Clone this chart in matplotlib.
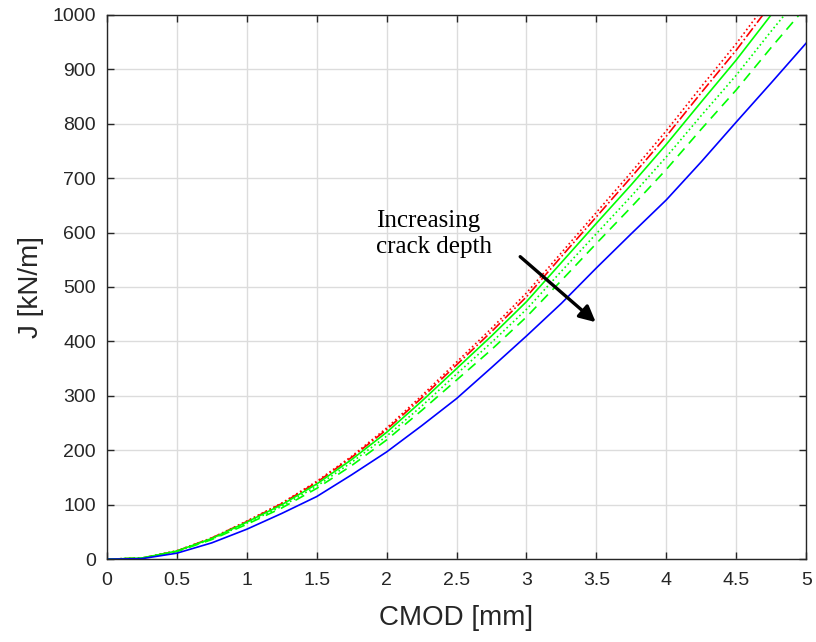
import matplotlib
matplotlib.use("Agg")
import matplotlib.pyplot as plt

cmod = [0, 0.25, 0.5, 0.75, 1, 1.25, 1.5, 1.75, 2, 2.25, 2.5, 2.75, 3, 3.25,
        3.5, 3.75, 4, 4.25, 4.5, 4.75, 5]

red_dotted = [0, 2, 15.5, 39, 70, 103, 143, 189, 241, 300, 362, 424, 489, 563,
              637, 711, 787, 868, 947, 1033, 1116]
red_dashdot = [0, 2, 15, 39, 69, 102, 141, 187, 238, 296, 357, 418, 482, 556,
               629, 702, 777, 857, 935, 1020, 1102]
green_solid = [0, 2, 15, 38, 68, 100, 138, 183, 233, 290, 350, 410, 473, 545,
               617, 688, 762, 840, 917, 1000, 1080]
green_dotted = [0, 2, 14.5, 37, 66, 97, 134, 178, 226, 281, 340, 398, 459, 529,
                598, 667, 739, 815, 889, 970, 1048]
green_dashed = [0, 2, 14, 36, 64, 94, 130, 172, 219, 273, 329, 385, 445, 512,
                580, 647, 716, 790, 862, 940, 1015]
blue_solid = [0, 1, 11, 30, 55, 84, 115, 155, 197, 245, 295, 352, 410, 470,
              535, 598, 660, 730, 803, 875, 948]

xticks = [0, 0.5, 1, 1.5, 2, 2.5, 3, 3.5, 4, 4.5, 5]
xticklabels = ["0", "0.5", "1", "1.5", "2", "2.5", "3", "3.5", "4", "4.5", "5"]
yticks = [0, 100, 200, 300, 400, 500, 600, 700, 800, 900, 1000]

plt.rcParams['font.family'] = ['Liberation Sans', 'DejaVu Sans']

fig = plt.figure(figsize=(8.16, 6.42), dpi=100)
ax = fig.add_axes([0.131, 0.129, 0.857, 0.848])

ax.plot(cmod, red_dotted, color='#ff0000', linestyle=':', linewidth=1.2)
ax.plot(cmod, red_dashdot, color='#ff0000', linestyle='-.', linewidth=1.2)
ax.plot(cmod, green_solid, color='#00ff00', linestyle='-', linewidth=1.2)
ax.plot(cmod, green_dotted, color='#00ff00', linestyle=':', linewidth=1.2)
ax.plot(cmod, green_dashed, color='#00ff00', linestyle=(0, (6, 4)), linewidth=1.2)
ax.plot(cmod, blue_solid, color='#0000ff', linestyle='-', linewidth=1.2)

ax.set_xlim(0, 5)
ax.set_ylim(0, 1000)
ax.set_xticks(xticks)
ax.set_xticklabels(xticklabels)
ax.set_yticks(yticks)
ax.grid(True, color='#dcdcdc', linewidth=1)
ax.set_axisbelow(True)
ax.tick_params(direction='in', top=True, right=True, labelsize=14,
               colors='#262626', length=5, width=1)
ax.tick_params(axis='x', pad=9)
ax.tick_params(axis='y', pad=8)
for s in ax.spines.values():
    s.set_color('#262626')
    s.set_linewidth(1)

ax.set_xlabel("CMOD [mm]", fontsize=20, color='#262626', labelpad=12)
ax.set_ylabel("J [kN/m]", fontsize=20, color='#262626', labelpad=6)

serif = ['Liberation Serif', 'DejaVu Serif']
ax.text(1.924, 610, "Increasing", fontsize=18, family=serif, color='black',
        ha='left', va='baseline')
ax.text(1.924, 562, "crack depth", fontsize=18, family=serif, color='black',
        ha='left', va='baseline')
ax.annotate("", xy=(3.51, 432), xytext=(2.94, 559),
            arrowprops=dict(arrowstyle='-|>', color='black', lw=2.4,
                            mutation_scale=24))

fig.savefig("out.png", dpi=100)
